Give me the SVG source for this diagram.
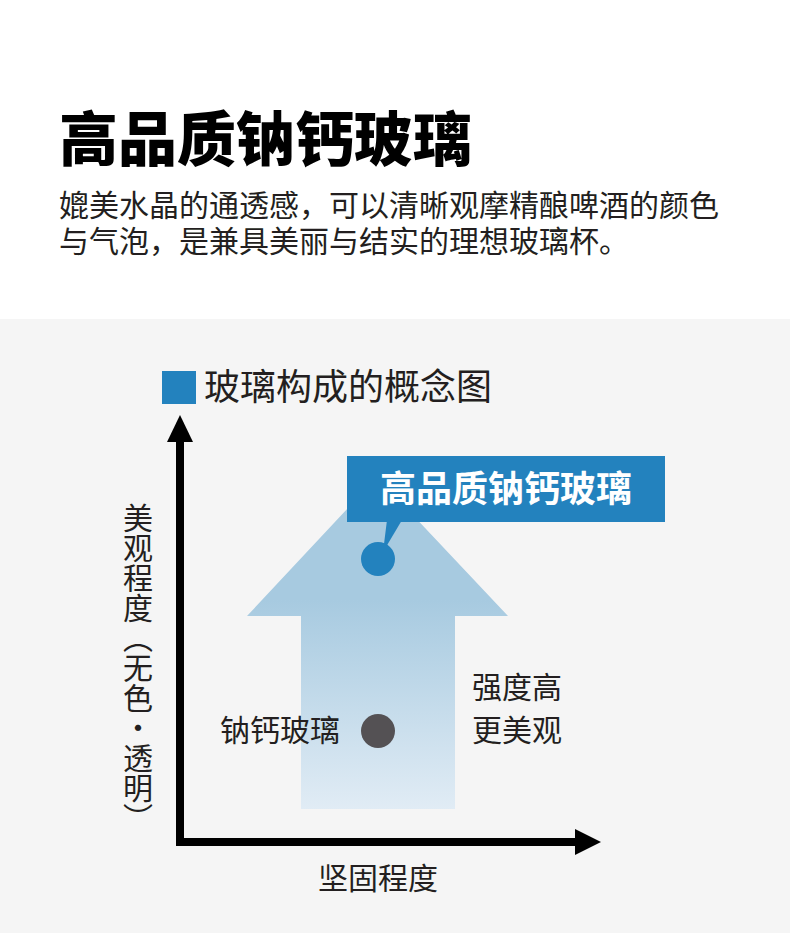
<svg xmlns="http://www.w3.org/2000/svg" width="790" height="942" viewBox="0 0 790 942">
<defs>
<style>
.cjk{font-family:"Noto Sans CJK SC","Noto Sans",sans-serif;}
.t30{font-size:30px;fill:#231f20;}
</style>
<linearGradient id="arrowGrad" gradientUnits="userSpaceOnUse" x1="0" y1="600" x2="0" y2="810">
<stop offset="0" stop-color="#a7cae0"/>
<stop offset="1" stop-color="#e1ecf5"/>
</linearGradient>
</defs>
<rect x="0" y="0" width="790" height="942" fill="#ffffff"/>
<rect x="0" y="319" width="790" height="614" fill="#f5f5f5"/>
<g id="header">
<text class="cjk" x="59" y="161" font-size="59" font-weight="900" fill="#000">高品质钠钙玻璃</text>
<text class="cjk t30" x="59" y="216">媲美水晶的通透感，可以清晰观摩精酿啤酒的颜色</text>
<text class="cjk t30" x="59" y="252">与气泡，是兼具美丽与结实的理想玻璃杯。</text>
</g>
<g id="legend">
<rect x="162" y="371" width="34" height="33" fill="#2382be"/>
<text class="cjk" x="204" y="400" font-size="36" fill="#231f20">玻璃构成的概念图</text>
</g>
<g id="arrow">
<polygon points="377,477 508,616 455,616 455,809 301,809 301,616 247,616" fill="url(#arrowGrad)"/>
</g>
<g id="connectors">
<line x1="180" y1="440" x2="180" y2="842" stroke="#000" stroke-width="8"/>
<polygon points="180,415 167,442 193,442" fill="#000"/>
<line x1="176" y1="842" x2="577" y2="842" stroke="#000" stroke-width="8"/>
<polygon points="601,842 575,829 575,855" fill="#000"/>
</g>
<g id="callout">
<rect x="347" y="456" width="318" height="66" fill="#2382be"/>
<polygon points="387,520 402,520 383,552" fill="#2382be"/>
<text class="cjk" x="506" y="502" font-size="36" font-weight="700" fill="#ffffff" text-anchor="middle">高品质钠钙玻璃</text>
</g>
<g id="point-high">
<circle cx="378" cy="559" r="17" fill="#2382be"/>
</g>
<g id="point-soda">
<circle cx="378" cy="731" r="17" fill="#545154"/>
<text class="cjk t30" x="220" y="741">钠钙玻璃</text>
</g>
<g id="note">
<text class="cjk t30" x="472" y="698">强度高</text>
<text class="cjk t30" x="472" y="741">更美观</text>
</g>
<g id="y-label">
<text class="cjk t30" x="138" y="503" writing-mode="vertical-rl" style="writing-mode:vertical-rl">美观程度（无色<tspan style="text-orientation:upright">·</tspan>透明）</text>
</g>
<g id="x-label">
<text class="cjk t30" x="318" y="889">坚固程度</text>
</g>
</svg>
